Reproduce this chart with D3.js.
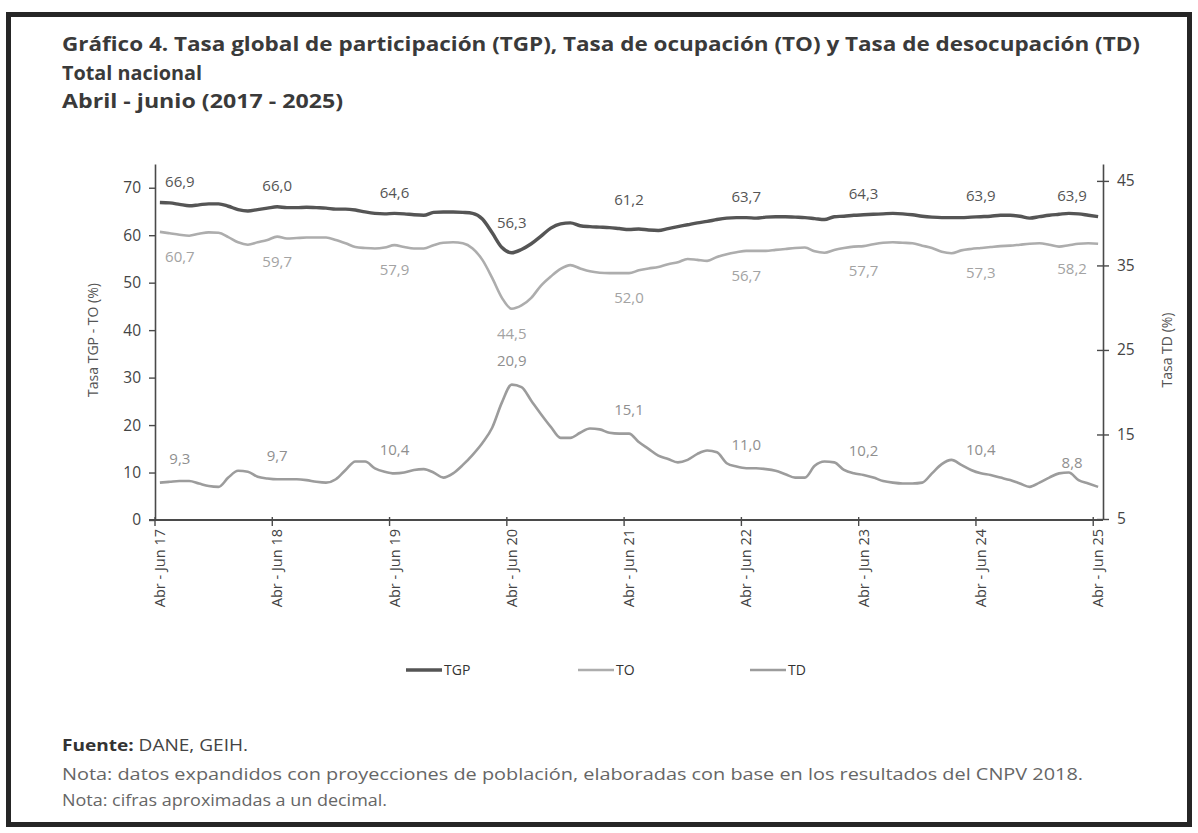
<!DOCTYPE html>
<html><head><meta charset="utf-8">
<script src="https://cdn.jsdelivr.net/npm/d3@7"></script>
<style>
body{margin:0;background:#fff;}
svg text{font-family:"Open Sans","Noto Sans",sans-serif;}
</style>
</head><body>
<svg id="chart" width="1198" height="833"></svg>
<script>
// ---- Data ----
const monthNames = ["Ene","Feb","Mar","Abr","May","Jun","Jul","Ago","Sep","Oct","Nov","Dic"];
const categories = [];
for (let k = 0; k < 97; k++) {
  const s = (3 + k) % 12, e = (5 + k) % 12, yr = 17 + Math.floor((5 + k) / 12);
  categories.push(monthNames[s] + " - " + monthNames[e] + " " + yr);
}
const seriesNames = ["TGP", "TO", "TD"];
const tgp = [66.9,66.8,66.5,66.2,66.4,66.6,66.6,66.1,65.4,65.1,65.4,65.7,
  66.0,65.8,65.8,65.9,65.8,65.7,65.5,65.5,65.3,64.9,64.6,64.5,
  64.6,64.5,64.3,64.2,64.8,64.9,64.9,64.8,64.6,63.4,60.5,57.4,
  56.3,57.0,58.2,59.8,61.5,62.4,62.6,62.0,61.8,61.7,61.6,61.4,
  61.2,61.3,61.1,61.0,61.4,61.8,62.2,62.6,62.9,63.3,63.6,63.7,
  63.7,63.6,63.8,63.9,63.9,63.8,63.7,63.5,63.3,63.9,64.0,64.2,
  64.3,64.4,64.5,64.6,64.5,64.3,64.0,63.8,63.7,63.7,63.7,63.8,
  63.9,64.0,64.2,64.2,64.0,63.6,63.9,64.2,64.4,64.6,64.5,64.2,
  63.9];
const to = [60.7,60.4,60.1,59.9,60.3,60.6,60.5,59.6,58.5,58.0,58.5,59.0,
  59.7,59.3,59.4,59.5,59.5,59.5,59.0,58.3,57.5,57.3,57.2,57.4,
  57.9,57.5,57.2,57.2,57.9,58.4,58.5,58.3,57.2,54.8,51.0,46.8,
  44.5,45.2,46.8,49.4,51.3,52.9,53.7,53.0,52.4,52.1,52.0,52.0,
  52.0,52.6,53.0,53.3,53.9,54.3,55.0,54.8,54.6,55.4,56.0,56.4,
  56.7,56.7,56.7,56.9,57.1,57.3,57.4,56.6,56.3,56.9,57.3,57.6,
  57.7,58.1,58.4,58.5,58.4,58.3,57.8,57.3,56.5,56.2,56.8,57.1,
  57.3,57.5,57.7,57.8,58.0,58.2,58.3,58.0,57.6,57.9,58.2,58.3,
  58.2];
const td = [9.3,9.4,9.5,9.5,9.2,8.9,8.8,9.9,10.7,10.6,10.0,9.8,
  9.7,9.7,9.7,9.6,9.4,9.3,9.7,10.8,11.8,11.8,11.0,10.6,
  10.4,10.5,10.8,10.9,10.5,9.9,10.4,11.4,12.6,14.0,15.8,18.8,
  20.9,20.6,19.0,17.4,15.9,14.6,14.6,15.2,15.7,15.6,15.2,15.1,
  15.1,14.1,13.3,12.5,12.1,11.7,12.0,12.7,13.1,12.9,11.6,11.2,
  11.0,11.0,10.9,10.7,10.3,9.9,9.9,11.3,11.8,11.7,10.8,10.4,
  10.2,9.9,9.5,9.3,9.2,9.2,9.3,10.4,11.5,12.0,11.4,10.8,
  10.4,10.2,9.9,9.6,9.2,8.8,9.3,9.9,10.4,10.5,9.6,9.2,
  8.8];
const leftTicks = [0,10,20,30,40,50,60,70];
const rightTicks = [5,15,25,35,45];
const labelEvery = 12;

// ---- Layout ----
const svg = d3.select("#chart");
const W = 1198, H = 833;
const plot = {left:155, right:1103, top:164, bottom:520};
const colors = {TGP:"#555555", TO:"#adadad", TD:"#9c9c9c"};
const labelColors = {TGP:"#555", TO:"#a3a3a3", TD:"#8f8f8f"};
const axisColor = "#4a4a4a";

svg.append("rect").attr("x",0).attr("y",0).attr("width",W).attr("height",H).attr("fill","#fff");
svg.append("rect").attr("x",8.5).attr("y",14.5).attr("width",1181).attr("height",810)
  .attr("fill","none").attr("stroke","#262626").attr("stroke-width",5);

// Title
const titleLines = ["Gráfico 4. Tasa global de participación (TGP), Tasa de ocupación (TO) y Tasa de desocupación (TD)",
  "Total nacional", "Abril - junio (2017 - 2025)"];
const titleWidths = [1078, 140, 281];
svg.append("g").selectAll("text").data(titleLines).join("text")
  .attr("x",62).attr("y",(d,i)=>[51,80,108][i])
  .attr("textLength",(d,i)=>titleWidths[i]).attr("lengthAdjust","spacingAndGlyphs")
  .attr("font-size",19.5).attr("font-weight",700).attr("fill","#3a3a3a").text(d=>d);

// Scales
const x = d3.scaleBand().domain(categories).range([plot.left, plot.right]).padding(0);
const cx = c => x(c) + x.bandwidth()/2;
const yL = d3.scaleLinear().domain([0,75]).range([plot.bottom, plot.top]);
const yR = d3.scaleLinear().domain([5,47]).range([plot.bottom-1, plot.top]);

// Left axis
const gL = svg.append("g").attr("transform",`translate(${plot.left},0)`)
  .call(d3.axisLeft(yL).tickValues(leftTicks).tickSize(6).tickSizeOuter(0).tickPadding(8));
gL.select(".domain").attr("stroke",axisColor).attr("stroke-width",1.6);
gL.selectAll(".tick line").attr("stroke",axisColor).attr("stroke-width",1.4);
gL.selectAll(".tick text").attr("font-size",15.5).attr("fill","#444").style("font-family","'Open Sans',sans-serif");

// Right axis
const gR = svg.append("g").attr("transform",`translate(${plot.right},0)`)
  .call(d3.axisRight(yR).tickValues(rightTicks).tickSize(6).tickSizeOuter(0).tickPadding(8));
gR.select(".domain").attr("stroke",axisColor).attr("stroke-width",1.6);
gR.selectAll(".tick line").attr("x1",-6).attr("stroke",axisColor).attr("stroke-width",1.4);
gR.selectAll(".tick text").attr("font-size",15.5).attr("fill","#444").style("font-family","'Open Sans',sans-serif");

// Bottom axis
const xTickCats = categories.filter((c,i)=>i%labelEvery===0);
const gX = svg.append("g").attr("transform",`translate(0,${plot.bottom})`)
  .call(d3.axisBottom(x).tickValues(xTickCats).tickSize(0).tickSizeOuter(0));
gX.select(".domain").attr("d",`M${plot.left-6},0H${plot.right}`).attr("stroke",axisColor).attr("stroke-width",2);
gX.selectAll(".tick line").attr("x1",-x.bandwidth()/2).attr("x2",-x.bandwidth()/2)
  .attr("y1",-3).attr("y2",6).attr("stroke",axisColor).attr("stroke-width",1.4);
gX.selectAll(".tick text").attr("transform","rotate(-90)").attr("text-anchor","end")
  .attr("x",-9).attr("y",0).attr("dy","0.35em")
  .attr("font-size",14.5).attr("fill","#444").style("font-family","'Open Sans',sans-serif");

// Axis titles
svg.append("text").attr("transform","translate(98,340) rotate(-90)").attr("text-anchor","middle")
  .attr("font-size",14).attr("fill","#555").text("Tasa TGP - TO (%)");
svg.append("text").attr("transform","translate(1172,350) rotate(-90)").attr("text-anchor","middle")
  .attr("font-size",14).attr("fill","#555").text("Tasa TD (%)");

// Lines
const series = [
  {name:"TGP", values:tgp, y:yL, w:3.4},
  {name:"TO", values:to, y:yL, w:2.6},
  {name:"TD", values:td, y:yR, w:2.6}
];
series.forEach(s=>{
  const line = d3.line().x((d,i)=>cx(categories[i])).y(d=>s.y(d)).curve(d3.curveMonotoneX);
  svg.append("path").datum(s.values).attr("d",line).attr("fill","none")
    .attr("stroke",colors[s.name]).attr("stroke-width",s.w).attr("stroke-linejoin","round");
});

// Data labels
const fmt = d3.formatLocale({decimal:",", thousands:".", grouping:[3], currency:["$",""]}).format(".1f");
const labelOffset = {TGP:-21, TO:25, TD:-24};
series.forEach(s=>{
  const idx = d3.range(0, categories.length, labelEvery);
  svg.append("g").selectAll("text").data(idx).join("text")
    .attr("x",i=> cx(categories[i]) + (i===0 ? 20 : (i===categories.length-1 ? -26 : 0)))
    .attr("y",i=>{
      let off = labelOffset[s.name];
      const v = s.values[i];
      const localMin = i>0 && i<s.values.length-1 && v<=s.values[i-1] && v<=s.values[i+1];
      if (s.name==="TGP" && localMin) off -= 9;
      return s.y(v) + off;
    })
    .attr("dy","0.35em").attr("text-anchor","middle")
    .attr("font-size",15).attr("fill",labelColors[s.name])
    .text(i=>fmt(s.values[i]));
});

// Legend
const legendX = [406, 578, 750];
const lg = svg.append("g");
series.forEach((s,k)=>{
  lg.append("line").attr("x1",legendX[k]).attr("x2",legendX[k]+36).attr("y1",670).attr("y2",670)
    .attr("stroke",colors[s.name]).attr("stroke-width",s.w);
  lg.append("text").attr("x",legendX[k]+38).attr("y",670).attr("dy","0.35em")
    .attr("font-size",14).attr("fill","#333").text(s.name);
});

// Footer
const foot = svg.append("g").attr("font-size",16);
const f1 = foot.append("text").attr("x",62).attr("y",751).attr("fill","#444")
  .attr("textLength",186).attr("lengthAdjust","spacingAndGlyphs");
f1.append("tspan").attr("font-weight",700).attr("fill","#333").text("Fuente: ");
f1.append("tspan").text("DANE, GEIH.");
foot.append("text").attr("x",62).attr("y",780).attr("fill","#666")
  .attr("textLength",1021).attr("lengthAdjust","spacingAndGlyphs")
  .text("Nota: datos expandidos con proyecciones de población, elaboradas con base en los resultados del CNPV 2018.");
foot.append("text").attr("x",62).attr("y",806).attr("fill","#666")
  .attr("textLength",325).attr("lengthAdjust","spacingAndGlyphs")
  .text("Nota: cifras aproximadas a un decimal.");
</script>
</body></html>
